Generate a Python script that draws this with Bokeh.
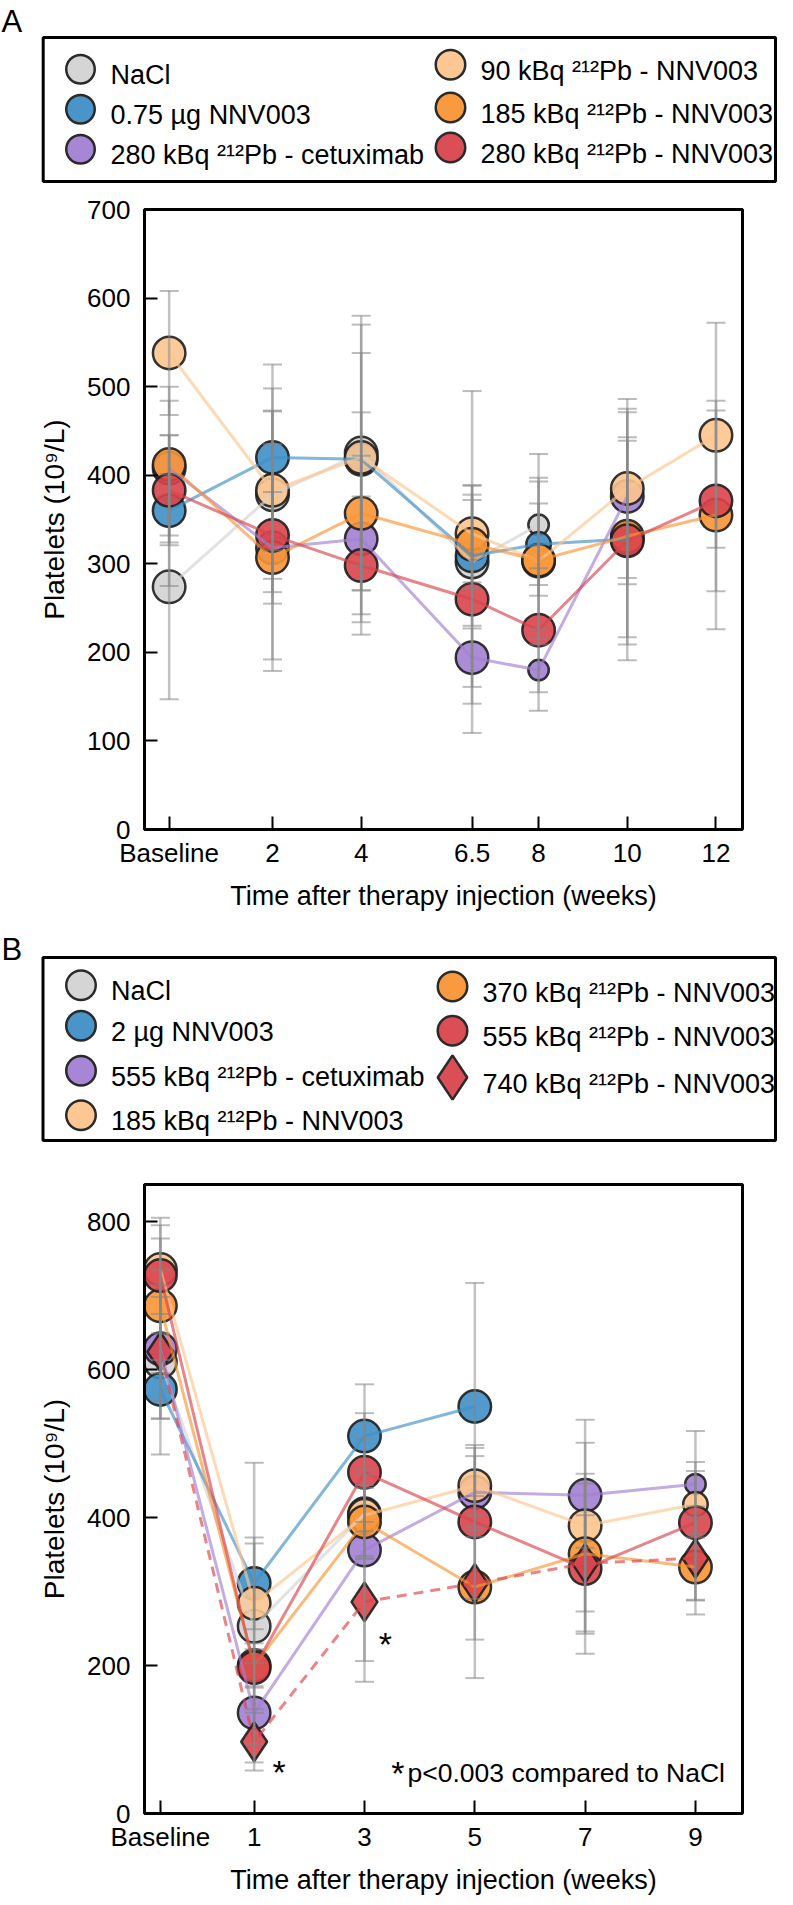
import math
from bokeh.plotting import figure
from bokeh.models import Range1d, FixedTicker
from bokeh.layouts import column
from bokeh.embed import file_html
from bokeh.resources import INLINE
from bokeh.core.properties import value

NAN = float("nan")

# ---------------- Panel A data ----------------
A_tick_labels = ["Baseline", "2", "4", "6.5", "8", "10", "12"]
A_weeks = [-0.33, 2, 4, 6.5, 8, 10, 12]
A_series_labels = ["NaCl", "0.75 µg NNV003", "280 kBq ²¹²Pb - cetuximab",
                   "90 kBq ²¹²Pb - NNV003", "185 kBq ²¹²Pb - NNV003", "280 kBq ²¹²Pb - NNV003"]

A_nacl_mean = [274, 378, 425, 302, 344, NAN, NAN]
A_nacl_sd = [127, 95, 155, 193, 80, NAN, NAN]
A_nacl_n = [7, 7, 7, 7, 4, NAN, NAN]

A_ug_mean = [360, 420, 418, 309, 322, 328, NAN]
A_ug_sd = [85, 105, 120, 79, 46, 111, NAN]
A_ug_n = [7, 7, 7, 7, 5, 7, NAN]

A_cet_mean = [408, 318, 328, 194, 180, 376, NAN]
A_cet_sd = [76, 63, 94, 33, 46, 99, NAN]
A_cet_n = [7, 7, 7, 7, 4, 7, NAN]

A_90_mean = [538, 383, 420, 334, 303, 385, 445]
A_90_sd = [70, 115, 150, 55, 94, 101, 127]
A_90_n = [7, 7, 7, 7, 7, 7, 7]

A_185_mean = [412, 307, 357, 322, 304, 331, 355]
A_185_sd = [88, 128, 114, 50, 89, 140, 129]
A_185_n = [7, 7, 7, 7, 7, 7, 7]

A_280_mean = [383, 332, 298, 260, 225, 326, 371]
A_280_sd = [62, 140, 78, 118, 70, 117, 102]
A_280_n = [7, 7, 7, 7, 7, 7, 7]

# ---------------- Panel B data ----------------
B_tick_labels = ["Baseline", "1", "3", "5", "7", "9"]
B_weeks = [-0.70, 1, 3, 5, 7, 9]
B_series_labels = ["NaCl", "2 µg NNV003", "555 kBq ²¹²Pb - cetuximab", "185 kBq ²¹²Pb - NNV003",
                   "370 kBq ²¹²Pb - NNV003", "555 kBq ²¹²Pb - NNV003", "740 kBq ²¹²Pb - NNV003"]

B_nacl_mean = [610, 253, 405, NAN, NAN, NAN]
B_nacl_sd = [125, 112, 60, NAN, NAN, NAN]
B_nacl_n = [7, 7, 7, NAN, NAN, NAN]

B_ug_mean = [573, 311, 510, 550, NAN, NAN]
B_ug_sd = [40, 62, 70, 167, NAN, NAN]
B_ug_n = [7, 7, 7, 7, NAN, NAN]

B_cet_mean = [628, 136, 356, 434, 430, 445]
B_cet_sd = [70, 67, 150, 60, 71, 30]
B_cet_n = [7, 7, 7, 7, 7, 4]

B_185_mean = [735, 284, 403, 443, 389, 418]
B_185_sd = [60, 190, 55, 40, 143, 45]
B_185_n = [7, 7, 7, 7, 7, 5]

B_370_mean = [686, 200, 394, 306, 351, 333]
B_370_sd = [91, 30, 50, 123, 108, 45]
B_370_n = [7, 7, 7, 7, 7, 7]

B_555_mean = [727, 197, 461, 394, 331, 393]
B_555_sd = [78, 25, 80, 104, 115, 124]
B_555_n = [7, 7, 7, 7, 7, 7]

B_740_mean = [624, 97, 286, 311, 338, 345]
B_740_sd = [90, 39, 108, 76, 65, 56]
B_740_n = [7, 7, 7, 7, 7, 7]

B_significant = [1, 2]          # indices of the 740 kBq points marked with *
B_note = "p<0.003 compared to NaCl"

# ---------------- styles ----------------
FONT = "Liberation Sans"
GRAY, BLUE, PURPLE = "#d3d3d3", "#3f8fc6", "#a27fd3"
LORANGE, ORANGE, RED = "#fdc48e", "#f99535", "#d9444c"
EDGE = "#1e1e1e"
ERR = "#858585"
W = 777


def series(label, mean, sd, n, color, marker="circle", dash="solid"):
    return dict(label=label, mean=mean, sd=sd, n=n, color=color, marker=marker, dash=dash)


A_series = [
    series(A_series_labels[0], A_nacl_mean, A_nacl_sd, A_nacl_n, GRAY),
    series(A_series_labels[1], A_ug_mean, A_ug_sd, A_ug_n, BLUE),
    series(A_series_labels[2], A_cet_mean, A_cet_sd, A_cet_n, PURPLE),
    series(A_series_labels[3], A_90_mean, A_90_sd, A_90_n, LORANGE),
    series(A_series_labels[4], A_185_mean, A_185_sd, A_185_n, ORANGE),
    series(A_series_labels[5], A_280_mean, A_280_sd, A_280_n, RED),
]
B_series = [
    series(B_series_labels[0], B_nacl_mean, B_nacl_sd, B_nacl_n, GRAY),
    series(B_series_labels[1], B_ug_mean, B_ug_sd, B_ug_n, BLUE),
    series(B_series_labels[2], B_cet_mean, B_cet_sd, B_cet_n, PURPLE),
    series(B_series_labels[3], B_185_mean, B_185_sd, B_185_n, LORANGE),
    series(B_series_labels[4], B_370_mean, B_370_sd, B_370_n, ORANGE),
    series(B_series_labels[5], B_555_mean, B_555_sd, B_555_n, RED),
    series(B_series_labels[6], B_740_mean, B_740_sd, B_740_n, RED, "diamond", "10 7"),
]


def msize(n, marker):
    s = 4.5 + 4 * n
    return s * 1.2 if marker == "diamond" else s


def valid(s, xs):
    idx = [i for i, m in enumerate(s["mean"]) if not math.isnan(m)]
    return idx, [xs[i] for i in idx], [s["mean"][i] for i in idx]


def make_plot(height, border_bottom, xs, tick_labels, x_range, y_end, y_ticks, all_series):
    p = figure(width=W, height=height, x_range=Range1d(*x_range), y_range=Range1d(0, y_end),
               min_border_left=144, min_border_right=35, min_border_top=17,
               min_border_bottom=border_bottom, toolbar_location=None, output_backend="svg")
    p.frame_align = False
    p.xgrid.visible = False
    p.ygrid.visible = False
    p.outline_line_color = "black"
    p.outline_line_width = 3
    p.outline_line_alpha = 1
    p.background_fill_color = "white"
    p.border_fill_color = "white"
    p.xaxis.ticker = FixedTicker(ticks=xs)
    p.xaxis.major_label_overrides = {x: t for x, t in zip(xs, tick_labels)}
    p.yaxis.ticker = FixedTicker(ticks=y_ticks)
    for ax in (p.xaxis[0], p.yaxis[0]):
        ax.axis_line_width = 3
        ax.axis_line_color = "black"
        ax.major_tick_in = 13
        ax.major_tick_out = 0
        ax.major_tick_line_width = 2
        ax.major_tick_line_color = "black"
        ax.minor_tick_line_color = None
        ax.major_label_text_font = FONT
        ax.major_label_text_font_size = "26px"
        ax.major_label_text_color = "black"
        ax.axis_label_text_font = FONT
        ax.axis_label_text_font_style = "normal"
        ax.axis_label_text_color = "black"
    p.xaxis.major_label_standoff = 8
    p.yaxis.major_label_standoff = 14
    p.xaxis.axis_label = "Time after therapy injection (weeks)"
    p.xaxis.axis_label_text_font_size = "27px"
    p.xaxis.axis_label_standoff = 10
    p.yaxis.axis_label = "Platelets (10⁹/L)"
    p.yaxis.axis_label_text_font_size = "28px"
    p.yaxis.axis_label_standoff = 14

    # markers
    for s in all_series:
        idx, x, y = valid(s, xs)
        size = [msize(s["n"][i], s["marker"]) for i in idx]
        p.scatter(x=x, y=y, size=size, marker=s["marker"], fill_color=s["color"], fill_alpha=0.9,
                  line_color=EDGE, line_width=2.5, line_alpha=0.9)
    # connecting lines
    for s in all_series:
        idx, x, y = valid(s, xs)
        p.line(x=x, y=y, line_color=s["color"], line_alpha=0.65, line_width=3, line_dash=s["dash"])
    # error bars
    for s in all_series:
        idx, x, y = valid(s, xs)
        lo = [s["mean"][i] - s["sd"][i] for i in idx]
        hi = [s["mean"][i] + s["sd"][i] for i in idx]
        p.segment(x0=x, y0=lo, x1=x, y1=hi, line_color=ERR, line_alpha=0.5, line_width=2.5)
        p.scatter(x=x + x, y=hi + lo, marker="dash", size=19, line_color=ERR, line_alpha=0.55,
                  line_width=2)
    return p


def make_legend(height, letter, letter_y, box, columns, all_series):
    p = figure(width=W, height=height, x_range=Range1d(0, W), y_range=Range1d(height, 0),
               min_border=0, toolbar_location=None, output_backend="svg",
               x_axis_location=None, y_axis_location=None)
    p.frame_align = False
    p.grid.visible = False
    p.outline_line_color = None
    p.text(x=[1], y=[letter_y], text=[letter], text_font=value(FONT), text_font_size="31px",
           text_baseline="alphabetic", text_align="left", text_color="black")
    p.quad(left=[box[0]], right=[box[1]], top=[box[2]], bottom=[box[3]], fill_color=None,
           line_color="black", line_width=3)
    for cx, rows, members, msz in columns:
        for ry, k in zip(rows, members):
            s = all_series[k]
            sz = msz * 1.5 if s["marker"] == "diamond" else msz
            p.scatter(x=[cx], y=[ry], size=sz, marker=s["marker"], fill_color=s["color"],
                      fill_alpha=0.95, line_color="#2a2a2a", line_width=2.5)
            p.text(x=[cx + 30], y=[ry + 6], text=[s["label"]], text_font=value(FONT),
                   text_font_size="27px", text_baseline="alphabetic", text_align="left",
                   text_color="black")
    return p


legA = make_legend(192, "A", 21, (42.7, 775, 37, 181),
                   [(80, [68.7, 108.7, 148.7], [0, 1, 2], 28.5),
                    (450, [64.3, 107, 147], [3, 4, 5], 29.5)], A_series)

plotA = make_plot(725, 88, A_weeks, A_tick_labels, (-0.886, 12.598), 700,
                  [0, 100, 200, 300, 400, 500, 600, 700], A_series)

legB = make_legend(250, "B", 32, (42.5, 775, 40, 223),
                   [(80.5, [67.7, 108.3, 153.3, 197.7], [0, 1, 2, 3], 29.5),
                    (452, [69, 113.3, 160], [4, 5, 6], 29.5)], B_series)

plotB = make_plot(730, 80, B_weeks, B_tick_labels, (-0.988, 9.853), 850,
                  [0, 200, 400, 600, 800], B_series)

# significance stars next to 740 kBq diamonds (offsets in screen pixels)
px_x = (750 - 152) / (9.853 + 0.988)
px_y = (1825 - 1192) / 850
star_offsets = [(25, 30), (21, 42)]
d = B_series[6]
sx = [B_weeks[i] + dx / px_x for i, (dx, dy) in zip(B_significant, star_offsets)]
sy = [d["mean"][i] - dy / px_y for i, (dx, dy) in zip(B_significant, star_offsets)]
plotB.text(x=sx, y=sy, text=["*"] * len(sx), text_font=value(FONT), text_font_size="34px",
           text_baseline="alphabetic", text_align="center", text_color="black")
plotB.text(x=[3.604], y=[55], text=["*"], text_font=value(FONT), text_font_size="34px",
           text_baseline="alphabetic", text_align="center", text_color="black")
plotB.text(x=[3.78], y=[55], text=[B_note], text_font=value(FONT), text_font_size="26.5px",
           text_baseline="alphabetic", text_align="left", text_color="black")

layout = column(legA, plotA, legB, plotB, spacing=0)
open("out.html", "w").write(file_html(layout, INLINE))
